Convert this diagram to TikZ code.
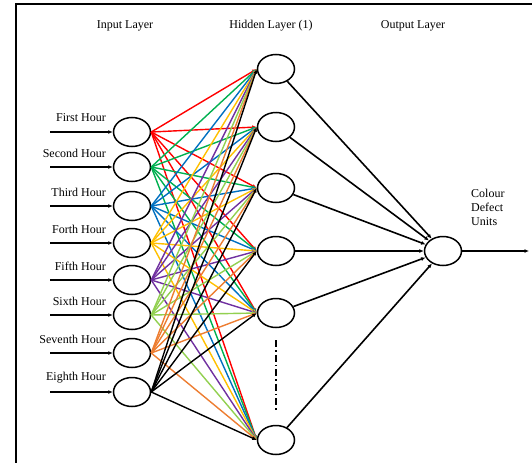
\documentclass[tikz,border=0pt]{standalone}
\usepackage{fontspec}
\setmainfont{Liberation Serif}
\usetikzlibrary{shapes.geometric,arrows.meta}

\definecolor{c1}{RGB}{255,0,0}
\definecolor{c2}{RGB}{0,176,80}
\definecolor{c3}{RGB}{0,112,192}
\definecolor{c4}{RGB}{255,192,0}
\definecolor{c5}{RGB}{112,48,160}
\definecolor{c6}{RGB}{146,208,80}
\definecolor{c7}{RGB}{237,125,49}
\definecolor{c8}{RGB}{0,0,0}

\tikzset{
	neuron/.style={draw, ellipse, line width=1.5pt, minimum width=37pt, minimum height=29pt, inner sep=0pt},
	link/.style={line width=1.4pt, -{Latex[length=4.5pt,width=4pt]}},
	lbl/.style={font=\fontsize{12}{14}\selectfont, inner sep=0pt}
}

\begin{document}
\begin{tikzpicture}[x=1pt,y=-1pt]
	\useasboundingbox (0,0) rectangle (532,463);
	\draw[line width=1.8pt] (532,4) -- (16,4) -- (16,463);
	\node[lbl] (hin) at (125,26) {Input Layer};
	\node[lbl] (hhid) at (271,26) {Hidden Layer (1)};
	\node[lbl] (hout) at (413,26) {Output Layer};
	% input layer
	\foreach \i/\y/\t in {1/132/First Hour, 2/167/Second Hour, 3/206/Third Hour, 4/243/Forth Hour,
		5/280/Fifth Hour, 6/315/Sixth Hour, 7/353/Seventh Hour, 8/392/Eighth Hour}{
		\node[neuron] (in\i) at (132,\y) {};
		\node[lbl, anchor=east] (t\i) at (106,\y-14) {\t};
		\coordinate (s\i) at (50,\y);
		\draw[link, line width=1.6pt] (s\i) -- (in\i.west);
	}
	% hidden layer
	\foreach \j/\y in {1/69, 2/127, 3/188, 4/251, 5/313, 6/440}
		\node[neuron] (h\j) at (276,\y) {};
	\node[neuron] (out) at (443,251) {};
	\draw[line width=2.8pt, dash pattern=on 7pt off 3pt on 1.5pt off 3pt] (276,340) -- (276,412);
	% input to hidden
	\foreach \i in {1,...,8}
		\foreach \j in {1,...,6}
			\draw[link, color=c\i] (in\i.east) -- (h\j.west);
	% hidden to output
	\foreach \j in {1,...,6}
		\draw[link, line width=1.6pt] (h\j) -- (out);
	\coordinate (res) at (529,251);
	\draw[link, line width=1.6pt] (out.east) -- (res);
	\node[lbl, anchor=north west, align=left, font=\fontsize{12}{14}\selectfont] (unit) at (471,189) {Colour\\Defect\\Units};
\end{tikzpicture}
\end{document}
